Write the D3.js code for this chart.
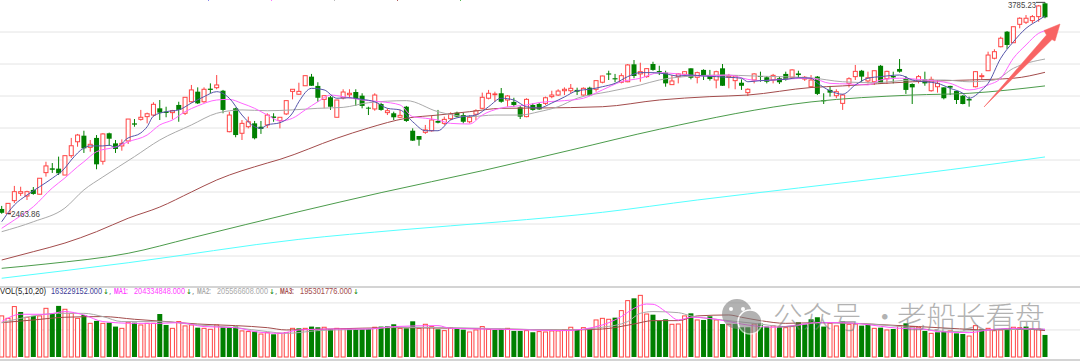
<!DOCTYPE html>
<html>
<head>
    <meta charset="utf-8">
    <title>K-line</title>
    <script type="text/javascript" src="https://cdn.jsdelivr.net/npm/d3@7/dist/d3.min.js"></script>
    <style>
        html, body {margin: 0; padding: 0; background: #fff; overflow: hidden;}
        svg {display: block;}
    </style>
</head>

<body>

<script type="text/javascript">

    // daily bars, index 0..165
    var opens = [2494,2466,2546,2592,2575,2613,2586,2721,2748,2746,2706,2827,2914,2952,2879,2938,2792,2967,2904,2888,2919,3029,3054,3071,3081,3123,3102,3096,3144,3092,3164,3227,3164,3246,3252,3233,2977,3123,2967,3008,3029,3008,3019,3072,3046,3088,3229,3211,3264,3321,3263,3179,3192,3067,3188,3208,3225,3202,3127,3119,3150,3096,3092,3067,3133,2983,2950,2973,2983,3044,3029,3058,3096,3081,3039,3086,3123,3186,3208,3217,3175,3163,3129,3071,3144,3150,3154,3196,3206,3233,3233,3238,3206,3252,3242,3286,3341,3311,3286,3289,3398,3338,3321,3400,3356,3346,3271,3321,3336,3373,3317,3363,3327,3300,3373,3317,3296,3283,3221,3300,3325,3317,3300,3311,3338,3317,3341,3306,3258,3321,3173,3238,3202,3154,3279,3321,3358,3294,3289,3389,3308,3325,3369,3311,3275,3294,3304,3233,3258,3254,3263,3231,3202,3181,3258,3321,3358,3436,3508,3602,3533,3648,3661,3671,3696,3779];
    var closes = [2470,2529,2602,2602,2602,2588,2686,2763,2739,2717,2827,2889,2956,2873,2898,2773,2963,2933,2869,2904,3056,3021,3067,3089,3148,3096,3094,3108,3113,3192,3238,3154,3242,3238,3269,3113,3081,2956,3029,3039,2936,2994,3081,3063,3067,3171,3242,3229,3327,3264,3189,3202,3133,3175,3225,3217,3181,3138,3121,3206,3113,3108,3067,3079,3044,2921,2927,2988,3050,3033,3054,3088,3071,3039,3067,3108,3192,3217,3213,3164,3200,3144,3071,3179,3113,3116,3189,3206,3231,3242,3248,3227,3248,3204,3296,3325,3334,3304,3327,3394,3325,3352,3371,3363,3350,3279,3294,3338,3352,3314,3346,3329,3306,3352,3264,3325,3325,3264,3242,3338,3319,3289,3329,3286,3304,3363,3331,3317,3300,3213,3167,3221,3227,3206,3308,3354,3321,3314,3358,3279,3354,3316,3352,3238,3254,3321,3279,3304,3279,3186,3252,3175,3150,3172,3352,3327,3456,3477,3561,3519,3633,3686,3686,3696,3763,3692];
    var highs = [2513,2529,2638,2633,2608,2631,2686,2789,2781,2821,2827,2938,2963,2983,2925,2956,2967,2971,2925,2929,3056,3056,3113,3096,3161,3175,3133,3113,3164,3192,3269,3254,3254,3279,3331,3238,3102,3127,3050,3071,3044,3044,3092,3092,3067,3171,3242,3283,3327,3338,3286,3202,3200,3175,3242,3242,3242,3217,3133,3217,3158,3123,3102,3113,3138,2998,2950,3019,3075,3113,3071,3098,3102,3096,3081,3117,3221,3238,3227,3250,3206,3189,3138,3186,3154,3156,3196,3233,3242,3254,3275,3252,3254,3258,3296,3327,3358,3338,3342,3400,3425,3408,3373,3414,3389,3358,3331,3342,3354,3373,3352,3367,3363,3358,3400,3338,3331,3304,3248,3342,3352,3325,3338,3321,3352,3367,3358,3325,3331,3325,3217,3263,3242,3213,3317,3394,3363,3352,3358,3394,3358,3352,3431,3325,3279,3331,3352,3321,3300,3254,3264,3233,3206,3196,3356,3342,3477,3492,3571,3606,3633,3692,3706,3706,3769,3785.23];
    var lows = [2464,2463.86,2531,2575,2550,2583,2586,2696,2719,2706,2706,2813,2883,2844,2852,2742,2771,2888,2844,2858,2900,3008,3046,3029,3071,3050,3067,3054,3039,3081,3158,3150,3158,3217,3242,3092,2973,2942,2925,2998,2929,2963,3000,3039,2998,3081,3179,3208,3264,3263,3164,3123,3113,3067,3179,3186,3138,3123,3081,3108,3108,3081,3050,3061,3038,2919,2889,2963,2977,3029,3019,3050,3067,3029,3029,3050,3119,3179,3164,3158,3133,3133,3056,3067,3108,3113,3144,3186,3200,3206,3217,3206,3202,3200,3227,3279,3300,3286,3279,3286,3311,3289,3314,3358,3331,3258,3269,3279,3321,3304,3279,3300,3296,3248,3263,3248,3242,3238,3200,3279,3289,3279,3279,3275,3296,3311,3311,3294,3254,3206,3150,3196,3186,3113,3254,3300,3289,3279,3269,3275,3275,3279,3346,3213,3150,3279,3264,3227,3221,3179,3206,3150,3148,3133,3254,3304,3356,3429,3504,3494,3531,3623,3650,3654,3664,3686];

    // volumes in millions
    var volumes = [304,286,373,333,294,304,304,360,318,378,353,323,286,311,249,267,249,254,225,212,257,254,237,249,249,318,237,212,262,230,237,217,212,205,237,220,220,225,193,188,188,170,180,168,175,180,212,212,212,225,220,220,207,212,207,212,207,207,207,220,225,227,242,212,212,264,212,242,225,205,195,217,207,202,185,200,225,205,200,205,212,193,193,195,183,188,185,193,193,200,220,200,217,212,274,286,279,291,343,417,434,456,318,313,269,279,242,244,304,323,274,274,301,274,244,242,244,220,220,244,249,225,230,220,217,225,257,242,279,294,225,249,230,262,242,244,232,242,212,217,200,207,232,249,225,220,193,175,183,188,193,175,170,155,232,205,212,195,200,207,220,217,225,207,207,163.23];
    var volDown = [3,5,8,9,13,15,17,18,21,25,26,31,35,36,37,40,43,47,49,50,52,55,56,57,58,60,61,62,64,65,69,72,73,78,79,81,82,84,91,93,97,100,103,104,105,109,111,112,114,116,117,118,120,121,123,126,127,128,129,130,133,136,137,139,141,143,146,148,149,151,152,155,159,162,165];

    // moving averages as [bar index, value], read at the bends
    var ma5 = [[0,2414],[2,2519],[4,2581],[6,2633],[8,2686],[10,2750],[11,2800],[13,2875],[14,2888],[16,2888],[17,2892],[18,2879],[20,2938],[22,2969],[23,3008],[24,3075],[26,3102],[28,3113],[30,3156],[32,3196],[34,3227],[36,3186],[38,3081],[40,3008],[41,2998],[42,3019],[44,3033],[46,3094],[47,3164],[49,3248],[51,3238],[53,3186],[55,3189],[57,3179],[59,3164],[61,3123],[63,3113],[65,3039],[67,2983],[69,2983],[71,3050],[73,3071],[75,3081],[77,3133],[79,3186],[81,3175],[83,3133],[85,3125],[87,3156],[89,3194],[91,3233],[93,3242],[95,3258],[97,3279],[99,3321],[101,3346],[103,3346],[105,3338],[107,3325],[109,3331],[111,3325],[113,3321],[115,3317],[117,3311],[118,3289],[120,3296],[122,3300],[124,3304],[126,3314],[128,3311],[129,3281],[131,3233],[133,3211],[135,3269],[137,3311],[139,3321],[142,3331],[144,3300],[146,3289],[148,3279],[150,3248],[152,3217],[153,3186],[155,3238],[156,3279],[158,3436],[160,3539],[162,3623],[164,3675],[165,3700]];
    var ma10 = [[0,2373],[2,2425],[5,2508],[8,2625],[10,2688],[12,2758],[13,2789],[15,2852],[18,2881],[20,2914],[23,2956],[25,3019],[27,3050],[29,3102],[31,3138],[34,3175],[36,3179],[38,3154],[40,3123],[42,3081],[44,3044],[46,3061],[48,3113],[50,3164],[52,3206],[54,3196],[57,3175],[60,3164],[63,3144],[65,3071],[67,3061],[69,3050],[71,3029],[74,3025],[76,3081],[79,3125],[83,3144],[85,3159],[89,3171],[92,3186],[95,3238],[98,3289],[101,3311],[104,3346],[107,3338],[111,3325],[115,3331],[118,3304],[120,3296],[124,3306],[128,3311],[131,3279],[134,3275],[137,3269],[139,3300],[142,3311],[146,3300],[150,3279],[153,3238],[156,3269],[158,3311],[160,3436],[162,3519],[164,3592],[165,3608]];
    var ma20 = [[0,2352],[5,2414],[10,2500],[13,2613],[16,2694],[21,2821],[25,2925],[30,3019],[34,3092],[38,3113],[42,3108],[46,3113],[50,3123],[54,3129],[58,3158],[64,3171],[69,3102],[74,3071],[78,3081],[82,3081],[85,3102],[88,3133],[91,3186],[96,3227],[101,3269],[104,3300],[108,3321],[114,3331],[119,3325],[128,3313],[133,3289],[138,3283],[144,3300],[149,3300],[153,3289],[157,3300],[160,3373],[165,3431]];
    var ma60 = [[0,2175],[5,2227],[10,2281],[15,2352],[20,2436],[25,2506],[30,2600],[34,2675],[42,2781],[44,2804],[53,2936],[58,3000],[64,3061],[69,3081],[74,3102],[79,3123],[85,3125],[95,3133],[104,3175],[112,3196],[118,3206],[128,3253],[133,3263],[144,3289],[153,3300],[160,3311],[165,3348]];
    var ma120 = [[0,2123],[7,2150],[20,2217],[30,2313],[47,2477],[60,2596],[76,2733],[90,2862],[104,2992],[128,3163],[144,3206],[153,3217],[165,3263]];
    var ma250 = [[0,2061],[20,2158],[47,2304],[63,2363],[79,2414],[95,2473],[110,2550],[126,2625],[142,2700],[158,2781],[165,2819]];

    var volMa1 = [[0,262],[3,316],[7,316],[10,336],[13,311],[16,262],[21,249],[25,249],[28,254],[32,225],[37,217],[40,188],[44,175],[47,200],[52,207],[58,207],[62,225],[69,232],[71,212],[79,205],[89,195],[95,237],[98,299],[100,360],[102,392],[103,390],[105,336],[107,274],[109,294],[113,279],[117,244],[119,230],[122,220],[126,237],[129,254],[133,254],[136,244],[142,212],[146,205],[148,188],[153,180],[156,200],[160,212],[165,204.33]];
    var volMa2 = [[0,254],[3,286],[9,323],[13,323],[16,299],[19,262],[25,262],[31,237],[37,217],[42,188],[45,175],[50,195],[58,207],[62,220],[71,217],[89,200],[95,220],[99,262],[101,323],[103,336],[107,328],[109,304],[113,279],[119,249],[124,225],[129,254],[135,249],[145,212],[150,188],[156,200],[165,205.57]];
    var volMa3 = [[0,254],[5,274],[10,294],[16,299],[21,279],[26,262],[31,244],[37,232],[42,217],[45,200],[52,207],[62,217],[79,207],[89,200],[95,207],[100,244],[103,269],[107,269],[110,304],[115,311],[117,294],[120,269],[124,249],[129,254],[135,249],[140,237],[145,225],[150,212],[156,200],[161,207],[165,195.3]];

    var priceTicks = [3600,3400,3200,3000,2800,2600,2400,2200],
        volTicks = [200,400];

    var width = 1080,
        height = 361,
        red = "#ff4444",
        green = "#008000";

    var x = d3.scaleLinear().domain([0, 165]).range([1.7, 1045]),
        y = d3.scaleLinear().domain([3800, 2000]).range([0, 288]),
        yVol = d3.scaleLinear().domain([0, 500]).range([357, 289.4]);

    var svg = d3.select("body").append("svg")
        .attr("width", width)
        .attr("height", height)
        .style("background", "#fff");

    renderGrid();
    renderVolume();
    renderCandles();

    // price averages
    drawLine(ma250, y, "#55ffff");
    drawLine(ma120, y, "#4c9c4c");
    drawLine(ma60, y, "#a34c4c");
    drawLine(ma20, y, "#aaaaaa");
    drawLine(ma10, y, "#ff66ff");
    drawLine(ma5, y, "#5555aa");

    // volume averages
    drawLine(volMa3, yVol, "#a34c4c");
    drawLine(volMa2, yVol, "#aaaaaa");
    drawLine(volMa1, yVol, "#ff55ff");

    renderLabels();
    renderArrow();
    renderWatermark();

    function renderGrid(){
        var grid = svg.append("g").attr("transform", "translate(0,-0.5)")
            .call(d3.axisRight(y).tickValues(priceTicks).tickSize(width).tickFormat(""));
        grid.select(".domain").remove();
        grid.selectAll("line").attr("stroke", "#e4e4e4");

        var gridVol = svg.append("g").attr("transform", "translate(0,-0.5)")
            .call(d3.axisRight(yVol).tickValues(volTicks).tickSize(width).tickFormat(""));
        gridVol.select(".domain").remove();
        gridVol.selectAll("line").attr("stroke", "#e4e4e4");

        // panel separators
        [287, 360].forEach(function(py){
            svg.append("line")
                .attr("x1", 0).attr("x2", width)
                .attr("y1", py).attr("y2", py)
                .attr("stroke", "#d4d4d4")
                .attr("stroke-width", 2);
        });
    }

    function renderVolume(){
        svg.append("g").selectAll("rect")
            .data(volumes)
            .enter()
            .append("rect")
            .attr("x", function(d, i){return x(i) - (isVolDown(i) ? 2.5 : 2);})
            .attr("y", function(d){return yVol(d);})
            .attr("width", function(d, i){return isVolDown(i) ? 5 : 4;})
            .attr("height", function(d){return yVol(0) - yVol(d);})
            .attr("fill", function(d, i){return isVolDown(i) ? green : "#fff";})
            .attr("stroke", function(d, i){return isVolDown(i) ? "none" : red;});
    }

    function isVolDown(i){
        return volDown.indexOf(i) >= 0;
    }

    function renderCandles(){
        var candles = svg.append("g").selectAll("g")
            .data(d3.range(opens.length))
            .enter()
            .append("g");

        candles.append("line")
            .attr("x1", function(i){return x(i);})
            .attr("x2", function(i){return x(i);})
            .attr("y1", function(i){return y(highs[i]);})
            .attr("y2", function(i){return y(lows[i]);})
            .attr("stroke", function(i){return closes[i] >= opens[i] ? red : green;});

        candles.append("rect")
            .attr("x", function(i){return x(i) - (closes[i] >= opens[i] ? 2 : 2.5);})
            .attr("y", function(i){return y(Math.max(opens[i], closes[i]));})
            .attr("width", function(i){return closes[i] >= opens[i] ? 4 : 5;})
            .attr("height", function(i){return Math.abs(y(opens[i]) - y(closes[i]));})
            .attr("fill", function(i){return closes[i] >= opens[i] ? "#fff" : green;})
            .attr("stroke", function(i){return closes[i] >= opens[i] ? red : "none";});
    }

    function drawLine(pts, scale, color){
        var line = d3.line()
            .x(function(d){return x(d[0]);})
            .y(function(d){return scale(d[1]);})
            .curve(d3.curveMonotoneX);

        svg.append("path")
            .attr("d", line(pts))
            .attr("fill", "none")
            .attr("stroke", color)
            .attr("stroke-width", 1);
    }

    function label(px, py, str, color, w, bold){
        svg.append("text")
            .attr("x", px)
            .attr("y", py)
            .attr("textLength", w)
            .attr("lengthAdjust", "spacingAndGlyphs")
            .attr("font-family", "'Liberation Sans Narrow', 'Liberation Sans', sans-serif")
            .attr("font-size", 8.5)
            .attr("font-weight", bold ? "bold" : "normal")
            .attr("fill", color)
            .text(str);
    }

    function renderLabels(){
        // high and low marks
        label(1008, 8, d3.format(".2f")(d3.max(highs)), "#444", 28);
        svg.append("line").attr("x1", 1036).attr("x2", x(165))
            .attr("y1", y(d3.max(highs))).attr("y2", y(d3.max(highs))).attr("stroke", "#444");
        label(11, 217, d3.format(".2f")(d3.min(lows)), "#444", 29);
        svg.append("line").attr("x1", x(1)).attr("x2", 11)
            .attr("y1", y(d3.min(lows))).attr("y2", y(d3.min(lows))).attr("stroke", "#222");

        // volume header
        label(0, 294, "VOL(5,10,20)", "#222", 46);
        label(51, 294, "163229152.000", "#3c3c96", 51);
        label(114, 294, "MA1:", "#ff44ff", 14, true);
        label(134, 294, "204334848.000", "#ff44ff", 51);
        label(197, 294, "MA2:", "#aaaaaa", 14, true);
        label(217, 294, "205566608.000", "#aaaaaa", 51);
        label(280, 294, "MA3:", "#a34c4c", 14, true);
        label(300, 294, "195301776.000", "#a34c4c", 52);
        [[103, ","], [186, ","], [269, ","], [353, ""]].forEach(function(d){
            var t = svg.append("text")
                .attr("x", d[0]).attr("y", 294)
                .attr("font-family", "'DejaVu Sans', sans-serif")
                .attr("font-size", 7);
            t.append("tspan").attr("fill", green).text("↓");
            t.append("tspan").attr("fill", "#444").text(d[1]);
        });

        // clipped legend remains on the top edge
        [[208, "#8888ee"], [271, "#ff77ff"], [334, "#bbbbbb"], [397, "#b06060"], [460, "#55bb55"]].forEach(function(d){
            svg.append("rect").attr("x", d[0]).attr("y", 0).attr("width", 1).attr("height", 1).attr("fill", d[1]);
        });
    }

    function renderArrow(){
        // hand drawn annotation pasted over the chart
        svg.append("path")
            .attr("d", "M984,107 L1046.5,35 L1044,30.5 L1060,24 L1055,41 L1052,39.5 Z")
            .attr("fill", "#f86464")
            .attr("stroke", "#f86464")
            .attr("stroke-width", 0.5);
    }

    function renderWatermark(){
        var mark = svg.append("g").attr("opacity", 0.6);
        mark.append("circle").attr("cx", 737).attr("cy", 314).attr("r", 15).attr("fill", "#808080");
        mark.append("circle").attr("cx", 731).attr("cy", 309).attr("r", 2).attr("fill", "#fff");
        mark.append("circle").attr("cx", 743).attr("cy", 309).attr("r", 2).attr("fill", "#fff");
        mark.append("circle").attr("cx", 750).attr("cy", 322).attr("r", 12).attr("fill", "#808080").attr("stroke", "#fff").attr("stroke-width", 1.5);

        [[773, "公众号"], [870, "·"], [897, "老船长看盘"]].forEach(function(d){
            mark.append("text")
                .attr("x", d[0])
                .attr("y", 328)
                .attr("font-family", "'Noto Sans CJK SC', sans-serif")
                .attr("font-size", 29.5)
                .attr("font-weight", 300)
                .attr("fill", "#808080")
                .text(d[1]);
        });
    }
</script>

</body>

</html>
